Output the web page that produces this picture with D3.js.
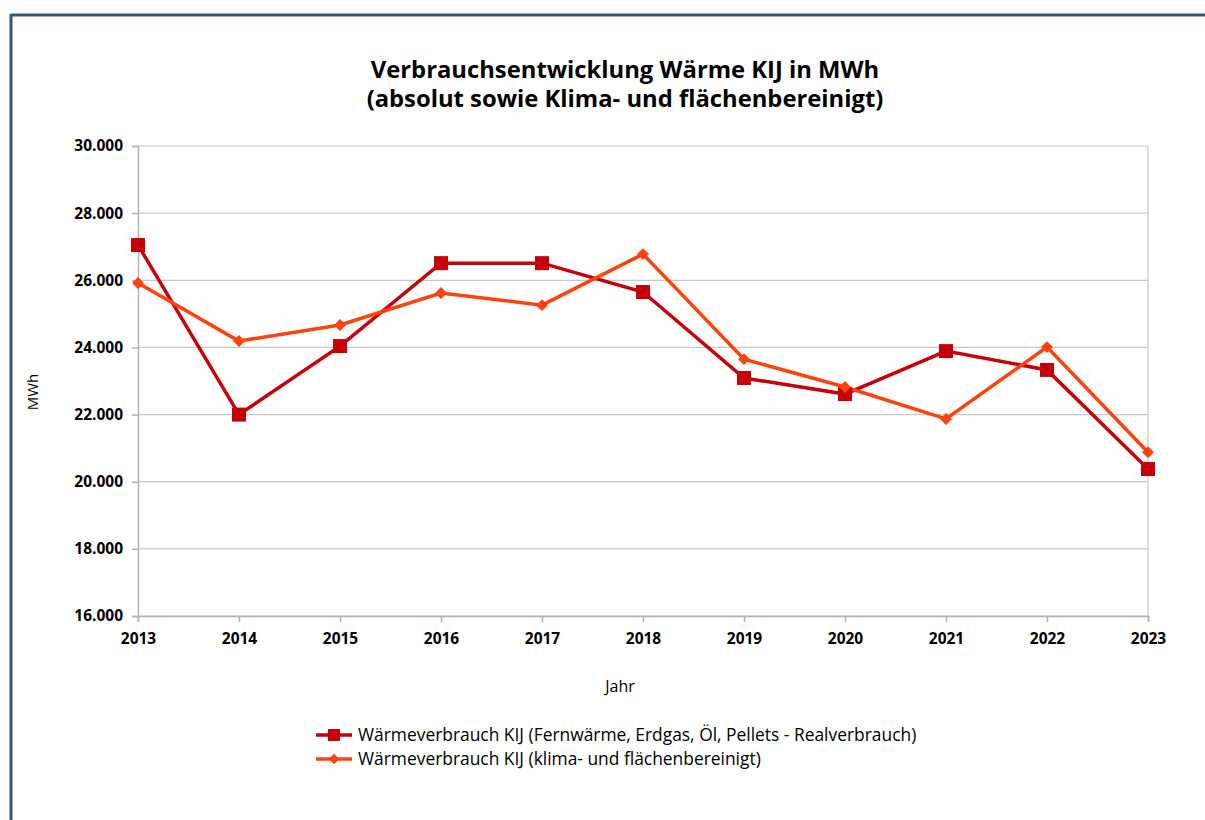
<!DOCTYPE html>
<html>
<head>
  <script src="https://d3js.org/d3.v7.min.js"></script>
  <style>
    body { margin: 0; background: #fff; }
    text { font-family: "Open Sans", "Liberation Sans", sans-serif; fill: #000; }
    .tick text { font-weight: bold; font-size: 15.5px; }
    .grid line { stroke: #c8c8c8; stroke-width: 1.2; }
  </style>
</head>
<body>
  <div id="chart"></div>
  <script>
    var years = ["2013", "2014", "2015", "2016", "2017", "2018", "2019", "2020", "2021", "2022", "2023"];
    var realValues = [27050, 22000, 24040, 26510, 26510, 25650, 23090, 22610, 23890, 23330, 20380];
    var adjustedValues = [25920, 24190, 24670, 25620, 25260, 26780, 23650, 22820, 21870, 24010, 20880];
    var yTicks = [16000, 18000, 20000, 22000, 24000, 26000, 28000, 30000];
    var seriesNames = [
      "Wärmeverbrauch KIJ (Fernwärme, Erdgas, Öl, Pellets - Realverbrauch)",
      "Wärmeverbrauch KIJ (klima- und flächenbereinigt)"
    ];

    var w = 1205, h = 820;
    var plotLeft = 138, plotRight = 1148, plotTop = 146, plotBottom = 616;

    var svg = d3.select("#chart").append("svg")
      .attr("width", w)
      .attr("height", h);

    // frame
    svg.append("line").attr("x1", 11).attr("x2", w).attr("y1", 15).attr("y2", 15)
      .attr("stroke", "#3a5282").attr("stroke-width", 3);
    svg.append("line").attr("x1", 11).attr("x2", 11).attr("y1", 14).attr("y2", h)
      .attr("stroke", "#3a5282").attr("stroke-width", 3);

    var x = d3.scalePoint().domain(years).range([plotLeft, plotRight]);
    var y = d3.scaleLinear().domain([16000, 30000]).range([plotBottom, plotTop]);
    var fmt = d3.format(",.0f");
    var de = function(v) { return fmt(v).replace(/,/g, "."); };

    // grid
    svg.append("g").attr("class", "grid")
      .selectAll("line").data(yTicks).enter().append("line")
      .attr("x1", plotLeft).attr("x2", plotRight)
      .attr("y1", d => y(d)).attr("y2", d => y(d));
    svg.append("line").attr("x1", plotRight).attr("x2", plotRight).attr("y1", plotTop).attr("y2", plotBottom)
      .attr("stroke", "#c8c8c8").attr("stroke-width", 1.2);

    svg.append("g")
      .attr("transform", `translate(${plotLeft},0)`)
      .call(d3.axisLeft(y).tickValues(yTicks).tickFormat(de).tickSize(6).tickPadding(9));
    svg.append("g")
      .attr("transform", `translate(0,${plotBottom})`)
      .call(d3.axisBottom(x).tickSize(6).tickPadding(11));
    svg.selectAll(".domain").attr("stroke", "#b3b3b3").attr("stroke-width", 1.5);
    svg.selectAll(".tick line").attr("stroke", "#b3b3b3").attr("stroke-width", 1.5);
    svg.selectAll(".tick text").attr("fill", "#000");

    // titles
    svg.append("text").attr("x", 625).attr("y", 78).attr("text-anchor", "middle")
      .style("font-size", "23.8px").style("font-weight", "bold")
      .text("Verbrauchsentwicklung Wärme KIJ in MWh");
    svg.append("text").attr("x", 625).attr("y", 107).attr("text-anchor", "middle")
      .style("font-size", "23.8px").style("font-weight", "bold")
      .text("(absolut sowie Klima- und flächenbereinigt)");
    svg.append("text").attr("x", 620).attr("y", 692).attr("text-anchor", "middle")
      .style("font-size", "16px").text("Jahr");
    svg.append("text").attr("transform", "translate(38,392) rotate(-90)").attr("text-anchor", "middle")
      .style("font-size", "15px").text("MWh");

    var red = "#c5000b", orange = "#ff420e";
    var line = d3.line().x((d, i) => x(years[i])).y(d => y(d));

    svg.append("path").datum(realValues).attr("d", line)
      .attr("fill", "none").attr("stroke", red).attr("stroke-width", 3.5);
    svg.append("path").datum(adjustedValues).attr("d", line)
      .attr("fill", "none").attr("stroke", orange).attr("stroke-width", 3.5);

    svg.selectAll(".sq").data(realValues).enter().append("rect")
      .attr("class", "sq")
      .attr("x", (d, i) => x(years[i]) - 7).attr("y", d => y(d) - 7)
      .attr("width", 14).attr("height", 14).attr("fill", red);

    var diamond = d3.symbol().type(d3.symbolDiamond2).size(90);
    svg.selectAll(".dm").data(adjustedValues).enter().append("path")
      .attr("class", "dm")
      .attr("d", diamond)
      .attr("transform", (d, i) => `translate(${x(years[i])},${y(d)})`)
      .attr("fill", orange);

    // legend
    var legend = svg.append("g");
    [red, orange].forEach(function(c, i) {
      var ly = 735 + i * 24;
      legend.append("line").attr("x1", 316).attr("x2", 352).attr("y1", ly).attr("y2", ly)
        .attr("stroke", c).attr("stroke-width", 3.5);
      if (i === 0) {
        legend.append("rect").attr("x", 328).attr("y", ly - 6).attr("width", 12).attr("height", 12).attr("fill", c);
      } else {
        legend.append("path").attr("d", d3.symbol().type(d3.symbolDiamond2).size(70))
          .attr("transform", `translate(334,${ly})`).attr("fill", c);
      }
      legend.append("text").attr("x", 358).attr("y", ly + 6)
        .style("font-size", "17.4px").text(seriesNames[i]);
    });
  </script>
</body>
</html>
